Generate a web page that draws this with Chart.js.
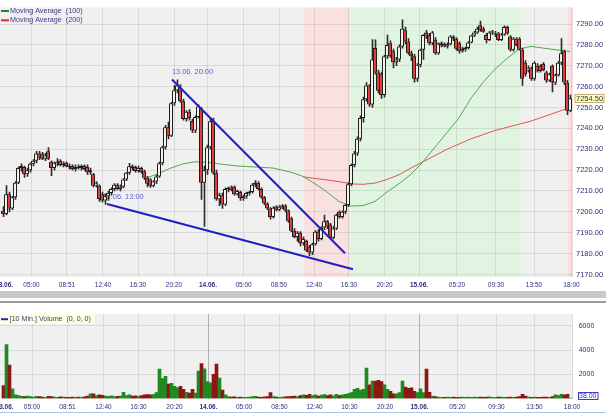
<!DOCTYPE html>
<html><head><meta charset="utf-8">
<script src="https://cdn.jsdelivr.net/npm/chart.js@4/dist/chart.umd.min.js"></script>
<style>
html,body{margin:0;padding:0;background:#fff;width:606px;height:416px;overflow:hidden;position:relative}
#w1{position:absolute;left:-20px;top:0;width:626px;height:290px}
#w2{position:absolute;left:-20px;top:304px;width:626px;height:112px}
#scroll{position:absolute;left:0;top:291px;width:606px;height:7px;background:#c9c9c9}
#sep{position:absolute;left:0;top:301px;width:606px;height:2px;background:#9c9c9c}
#bot{position:absolute;left:0;top:412px;width:606px;height:1px;background:#a9c6e8}
</style></head>
<body>
<div id="w1"><canvas id="c1" width="626" height="290"></canvas></div>
<div id="scroll"></div><div id="sep"></div>
<div id="w2"><canvas id="c2" width="626" height="112"></canvas></div>
<div id="bot"></div>
<script>
// ---------------- data ----------------
const tickPos = [0.35, 9.5, 21.33, 33.33, 45, 57, 68.33, 80.17, 92, 103.67, 115.33, 127.17, 138.67, 151.33, 164.33, 177, 189.5];
const tickLabels = ["13.06.","05:00","08:51","12:40","16:30","20:20","14.06.","05:00","08:50","12:40","16:30","20:20","15.06.","05:20","09:30","13:50","18:00"];
const priceTicks = [7170,7180,7190,7200,7210,7220,7230,7240,7250,7260,7270,7280,7290];
const volumeTicks = [2000,4000,6000];

const opens = [7200.5,7199,7208.5,7201.6,7207,7214,7221,7221.5,7218,7220,
7223,7224.5,7228,7228,7225.5,7229,7224,7221,7223.5,7224.5,
7222.5,7223.5,7222,7222,7220.5,7221.5,7221,7222,7221.5,7219,
7218,7212.5,7212.5,7208.5,7205.5,7207.5,7209,7211,7213,7211,
7212,7215.5,7218.7,7221.8,7221.5,7219.6,7221,7219.5,7216.3,7215.5,
7212.5,7214.5,7217,7223.3,7231,7240.5,7236.5,7252,7258.3,7259.5,
7253,7244.5,7248,7243.5,7239,7245.5,7249,7214,7220,7231,
7243.5,7218.7,7206,7208,7203.5,7211,7211.7,7212,7208.5,7209.5,
7206.5,7207.5,7209,7209.5,7213,7214,7211,7207,7204,7201.6,
7197.5,7202.5,7201,7202.5,7203,7200.8,7197,7191,7188,7190,
7185,7186,7183,7180.5,7184.5,7190.5,7187,7192.5,7195.5,7194,
7187.6,7192,7200,7197.5,7200,7203.3,7213.2,7222.5,7228,7235,
7245,7254,7260.6,7251.5,7278.5,7266.8,7266,7256,7274.6,7280.8,
7277,7271.7,7273,7279.3,7287,7281.6,7276,7274.6,7263.8,7270.5,
7277.7,7286,7284.7,7280.8,7282.5,7276,7280,7280.5,7279.3,7280.3,
7284,7283,7280.8,7277,7278,7278.5,7281.2,7284.5,7286,7289.4,
7287.8,7284.7,7282.4,7286,7285,7285.5,7282.4,7285,7288.6,7284,
7277.7,7283,7283,7277.7,7271.5,7267.6,7269,7263.8,7270,7270,
7271,7266.8,7263,7270,7262,7265.5,7271.5,7277,7262,7248.5];
const highs = [7202.5,7212.6,7209.5,7207.5,7214.5,7221.5,7223,7222,7221,7223.5,
7225,7229,7229,7228.5,7228,7230.8,7224.5,7224,7225.5,7225,
7224,7224,7223,7222.5,7222.5,7222.5,7222.5,7222.5,7222.5,7221,
7218.5,7214.5,7213,7209.5,7208.6,7210,7211.5,7213.5,7213.5,7213,
7216,7219,7223.3,7222.5,7222,7222,7221.5,7220,7217,7216,
7215,7217.5,7224,7231.5,7241.5,7243,7252.5,7260.6,7263.3,7261,
7254,7248.5,7249,7244.5,7246,7251.3,7250,7222,7232,7245,
7245,7220,7209,7209,7211.5,7212,7212.5,7212.5,7210.5,7210,
7208,7209.5,7210,7213.5,7215,7214.5,7211.5,7207.5,7204.5,7202,
7202.5,7203,7203,7203.5,7203.5,7201,7197.5,7192,7190.7,7190.5,
7188,7186.5,7184,7185,7191,7191.5,7193,7198.5,7196,7194.5,
7193,7199,7200.5,7200.5,7203.5,7214,7223,7229,7236,7246,
7255,7262,7261,7282.5,7282.4,7268,7267,7275,7284.7,7282,
7278,7274,7280,7292,7288.5,7283,7277,7275.5,7271,7278,
7285,7287,7285.5,7286.5,7283.5,7281,7281.5,7281,7281,7284.5,
7284.5,7283.5,7281.5,7279,7279,7281.6,7284.7,7286.5,7288.5,7291.4,
7288.5,7285.5,7286.5,7287,7286.5,7286,7285.5,7289.2,7289,7284.5,
7283.5,7283.5,7283.5,7278.5,7272.5,7270,7269.5,7272,7271,7270.5,
7271.5,7267.5,7266.5,7270.5,7266,7272,7283,7277.5,7263,7256];
const lows = [7197.7,7198.5,7200,7201,7206,7213.5,7219.5,7216.5,7217,7219,
7222,7223.5,7225,7225,7224.5,7225,7217.4,7220,7222,7222,
7221.5,7221.5,7220.5,7220,7219.5,7220.5,7220,7220,7218,7218,
7212,7212,7205,7204.7,7203.6,7205.5,7208,7210,7210.5,7210,
7211.5,7215,7218,7220,7219,7219,7218.5,7215.5,7212,7211.7,
7212,7213.5,7216.5,7222.5,7230,7235,7236,7251,7257,7252.5,
7244,7243.5,7244,7238,7238,7245,7206,7193,7218,7230,
7218,7205.5,7203,7201.6,7203,7209.5,7210,7208,7208,7205.5,
7205.5,7206.5,7208,7209,7212,7210.5,7206.5,7203.5,7201,7196.5,
7197,7200.5,7200.5,7201.5,7200,7195,7190.5,7187.5,7186,7183.7,
7184,7181,7179,7179.5,7184,7186,7186.5,7191.5,7192,7187,
7187,7191.5,7197,7197,7199,7202.5,7212.5,7221.5,7227,7234,
7243,7253,7250.5,7250,7266,7257,7254.4,7255,7273.5,7274,
7269,7270,7272,7278.5,7280.5,7275.5,7272.5,7262.2,7262.5,7269.5,
7273,7283,7280,7280,7275.5,7275.5,7279,7279,7278.5,7280,
7282,7277.5,7276,7276.5,7277,7278,7281,7284,7285.5,7286.5,
7286,7281,7282,7285,7284,7282,7282,7284.5,7285,7277,
7277,7279.5,7277.5,7260.6,7265,7267,7263,7263,7267,7267,
7267.5,7262,7262.5,7257.5,7261,7265,7270.5,7261,7246.6,7248];
const closes = [7199,7208.5,7201.6,7207,7214,7221,7222,7218,7220,7223,
7224.5,7228,7226,7225.5,7227,7225.5,7221,7223.5,7224,7222.5,
7223,7222,7221.5,7220.5,7221.5,7221,7222,7220.5,7219,7220,
7212.5,7214,7206.2,7205.5,7207.5,7209,7211,7213,7211,7212,
7215.5,7218.7,7221.8,7221,7219.6,7221,7219,7216.3,7213.5,7212.5,
7214.5,7217,7223.3,7231,7240.5,7236.5,7252,7258.3,7260.5,7253,
7244.5,7248,7245,7239,7245.5,7250.5,7214,7220,7231,7243.4,
7218.7,7206,7208,7203.5,7211,7211.5,7210.3,7208.5,7210,7206.5,
7207.5,7209,7209.5,7213,7214,7211,7207,7204,7201.6,7197.5,
7202,7201,7202.5,7203,7200.8,7195.5,7191,7188,7190,7185,
7187,7181.5,7180.5,7184.5,7190.5,7187,7192.5,7195.5,7193,7187.6,
7192,7198.6,7197.5,7200,7203.3,7213.2,7222.5,7228,7235,7245,
7254,7260.6,7251.5,7273,7266.8,7258,7256,7274.6,7280,7274.6,
7271.7,7273,7279.3,7287.8,7281.6,7276,7274.6,7263.8,7270.5,7277.7,
7284.7,7284,7280.8,7286,7276,7280.5,7280.8,7279.3,7280.3,7284,
7283,7278.2,7277,7278,7278.5,7281.2,7284.5,7286,7287.8,7287,
7286.3,7282.4,7286,7286.3,7285.5,7282.4,7285,7288.6,7285.5,7277.7,
7283,7280,7277.7,7263.8,7266,7269,7263.8,7271.5,7267.6,7267.5,
7268,7263,7266,7262,7265.5,7271.5,7276,7262,7248.5,7254.5];
const volumes = [1060,4460,2760,810,300,250,180,150,200,150,
120,180,150,120,100,180,150,120,100,130,
110,100,90,120,100,110,90,130,200,380,
390,250,300,260,200,180,220,150,170,200,
510,250,300,200,220,180,250,300,320,300,
330,500,2440,1640,1840,1200,1260,1000,900,1000,
760,510,450,760,450,2260,2880,2460,1390,1300,
2000,2840,1690,690,300,150,120,130,100,110,
90,100,120,150,180,120,100,130,150,500,
150,120,100,110,130,150,180,200,150,250,
300,260,340,250,300,200,280,320,250,300,
220,340,250,300,350,400,500,760,840,700,
760,2510,1140,1440,1440,1510,1390,1140,760,600,
390,390,500,1440,940,840,890,600,500,810,
500,2440,510,200,150,120,100,90,110,100,
120,100,90,110,100,120,100,110,90,120,
100,110,130,100,90,110,120,100,90,110,
100,120,150,340,200,120,100,110,90,100,
110,120,100,150,300,250,340,300,340,38];

const maX   = [48,52,56,60,64,68,72,78,84,90,96,100,104,108,112,116,120,124,128,132,136,140,144,148,152,156,160,164,168,172,176,180,184,189];
const ma100 = [7216.3,7218.5,7221,7223,7224,7223.8,7223,7222,7221.5,7221,7219,7217,7213.5,7209.5,7205,7202.8,7203,7205,7209.5,7213.5,7218,7224,7231,7238,7245,7254.5,7262,7268.4,7273.5,7278,7279.3,7278.5,7277.7,7276.8];
const ma200 = [null,null,null,null,null,null,null,null,null,null,null,7216.8,7216,7215.3,7214.5,7213.4,7213.2,7213.8,7215.5,7217.8,7221,7224,7227,7230,7232.5,7235,7237,7239,7240.5,7242,7243.5,7245.5,7247.5,7250];

const trendA = [[56.33,7263.4],[114,7180.2]];
const trendB = [[34.67,7203.8],[116.67,7172.5]];
const noteText = ["13.06. 20:00","13.06. 13:00"];
const noteX = [56.33, 33.17];
const noteY = [7267.2, 7207.3];

const bandFrom = [100.33, 115.43, 188.23];
const bandTo   = [115.43, 172.67, 190];
const bandType = ['down','up','down'];

// ---------------- rendering ----------------
const FONT = '"Liberation Sans", Arial, sans-serif';
Chart.defaults.font.family = FONT;
const NAVY = '#2e2e7c';
const idx = closes.map((_, i) => i);
const isUp = i => closes[i] >= opens[i];
const bodyColors = idx.map(i => isUp(i) ? '#f3f3ec' : '#e43b3b');
const volColors = idx.map(i => isUp(i) ? '#1f8a1f' : '#8e1616');
const isDay = k => tickLabels[k] && tickLabels[k].endsWith('.');

function xAxis(extra, darkDays, pad, h) {
  return Object.assign({
    type: 'linear', position: 'bottom', offset: false,
    afterBuildTicks: s => { s.ticks = tickPos.map(v => ({value: v})); },
    afterFit: s => { s.height = h; },
    ticks: {
      autoSkip: false, maxRotation: 0, minRotation: 0, padding: pad, color: NAVY,
      callback: (v, k) => tickLabels[k],
      font: c => ({size: 6.5, weight: isDay(c.index) ? 'bold' : 'normal'})
    },
    grid: {
      offset: false, drawTicks: false,
      color: c => c.index === 0 ? 'rgba(0,0,0,0)' : (darkDays && isDay(c.index) ? 'rgba(0,0,0,0.26)' : 'rgba(0,0,0,0.09)')
    },
    border: {display: false}
  }, extra);
}

const panelBg = {
  id: 'panelBg',
  beforeDraw(chart) {
    const {ctx, chartArea: a, scales} = chart;
    ctx.save();
    ctx.fillStyle = '#f0f0f0';
    ctx.fillRect(a.left, a.top, a.right - a.left, a.bottom - a.top);
    if (chart.canvas.id === 'c1') {
      bandFrom.forEach((f, k) => {
        const x0 = Math.max(a.left, scales.x.getPixelForValue(f));
        const x1 = Math.min(a.right, scales.x.getPixelForValue(bandTo[k]));
        ctx.fillStyle = bandType[k] === 'up' ? '#e1f4e1' : '#f9e1e1';
        ctx.fillRect(x0, a.top, x1 - x0, a.bottom - a.top);
      });
    }
    ctx.restore();
  }
};

const priceOverlay = {
  id: 'priceOverlay',
  beforeDatasetsDraw(chart) {
    const {ctx, scales} = chart;
    ctx.save();
    ctx.font = '7.4px ' + FONT;
    ctx.fillStyle = '#5c5cd8';
    ctx.textBaseline = 'middle';
    ctx.textAlign = 'left';
    noteText.forEach((t, k) => ctx.fillText(t, scales.x.getPixelForValue(noteX[k]), scales.y.getPixelForValue(noteY[k])));
    ctx.restore();
  },
  afterDraw(chart) {
    const {ctx, chartArea: a, scales} = chart;
    ctx.save();
    // legend
    ctx.font = '7.2px ' + FONT;
    ctx.textBaseline = 'middle';
    ctx.textAlign = 'left';
    [0, 1].forEach(k => {
      const ds = chart.data.datasets[k];
      const y = 11 + k * 9.3;
      ctx.strokeStyle = k === 0 ? '#1a8a1a' : '#e02828';
      ctx.lineWidth = 2;
      ctx.beginPath(); ctx.moveTo(a.left + 1, y); ctx.lineTo(a.left + 9, y); ctx.stroke();
      ctx.fillStyle = '#3a3a80';
      ctx.fillText(ds.label, a.left + 10, y);
    });
    // current price box
    const last = closes[closes.length - 1];
    const py = scales.y.getPixelForValue(last);
    const bx = a.right + 1.5, bw = 30, bh = 9;
    ctx.fillStyle = '#ffffc4';
    ctx.fillRect(bx, py - bh / 2, bw, bh);
    ctx.strokeStyle = '#c8b070';
    ctx.lineWidth = 1;
    ctx.strokeRect(bx + 0.5, Math.round(py - bh / 2) + 0.5, bw - 1, bh - 1);
    ctx.fillStyle = '#333';
    ctx.font = '7.5px ' + FONT;
    ctx.fillText(last.toFixed(2), a.right + 3, py + 0.5);
    ctx.restore();
  }
};

new Chart(document.getElementById('c1'), {
  type: 'bar',
  data: {
    datasets: [
      {type: 'line', label: 'Moving Average  (100)', data: maX.map((x, k) => ({x, y: ma100[k]})),
       borderColor: '#52a852', borderWidth: 1, pointRadius: 0, tension: 0, order: 3},
      {type: 'line', label: 'Moving Average  (200)', data: maX.map((x, k) => ({x, y: ma200[k]})),
       borderColor: '#e85252', borderWidth: 1, pointRadius: 0, tension: 0, order: 3},
      {type: 'bar', label: 'wick', xAxisID: 'xw', data: idx.map(i => ({x: i, y: [lows[i], highs[i]]})),
       backgroundColor: '#2e2e2e', grouped: false, maxBarThickness: 1, barPercentage: 1, categoryPercentage: 1, order: 2},
      {type: 'bar', label: 'body', data: idx.map(i => ({x: i, y: [opens[i], closes[i]]})),
       backgroundColor: bodyColors, borderColor: '#1e1e1e', borderWidth: 1, borderSkipped: false,
       grouped: false, barPercentage: 1.3334, categoryPercentage: 1, minBarLength: 1, order: 1},
      {type: 'line', label: 'trendA', data: trendA.map(p => ({x: p[0], y: p[1]})),
       borderColor: '#1f1fc4', borderWidth: 2, pointRadius: 0, order: 0},
      {type: 'line', label: 'trendB', data: trendB.map(p => ({x: p[0], y: p[1]})),
       borderColor: '#1f1fc4', borderWidth: 2, pointRadius: 0, order: 0}
    ]
  },
  options: {
    responsive: false, animation: false, devicePixelRatio: 1,
    layout: {padding: {left: 20, right: 0, top: 0, bottom: 0}},
    plugins: {legend: {display: false}, tooltip: {enabled: false}},
    scales: {
      x: xAxis({min: -1, max: 190}, false, 4.1, 13),
      xw: {type: 'linear', display: false, offset: false, min: -1 - 1/6, max: 190 - 1/6},
      y: {
        type: 'linear', position: 'right', min: 7168.79, max: 7297.93,
        afterBuildTicks: s => { s.ticks = priceTicks.map(v => ({value: v})); },
        afterFit: s => { s.width = 33; },
        ticks: {padding: 3, color: NAVY, font: {size: 7.5}, callback: v => Number(v).toFixed(2)},
        grid: {drawTicks: false, color: 'rgba(0,0,0,0.09)'},
        border: {display: false}
      }
    }
  },
  plugins: [panelBg, priceOverlay]
});

const volOverlay = {
  id: 'volOverlay',
  afterDraw(chart) {
    const {ctx, chartArea: a, scales} = chart;
    ctx.save();
    // legend box
    ctx.fillStyle = '#ffffe0';
    ctx.fillRect(a.left, a.top, 95, 10);
    ctx.strokeStyle = '#2424c8'; ctx.lineWidth = 2;
    ctx.beginPath(); ctx.moveTo(a.left + 1, a.top + 5.3); ctx.lineTo(a.left + 8, a.top + 5.3); ctx.stroke();
    ctx.font = '7.1px ' + FONT;
    ctx.fillStyle = '#3a3a80';
    ctx.textBaseline = 'middle'; ctx.textAlign = 'left';
    ctx.fillText(chart.data.datasets[0].label, a.left + 9.7, a.top + 5.3);
    // last value box
    const last = volumes[volumes.length - 1];
    let py = scales.y.getPixelForValue(last);
    py = Math.min(py, a.bottom - 2.5);
    const bx = a.right + 4.5, bw = 20.5, bh = 8;
    ctx.fillStyle = '#ffffff';
    ctx.fillRect(bx, py - bh / 2, bw, bh);
    ctx.strokeStyle = '#3a3ad0'; ctx.lineWidth = 1;
    ctx.strokeRect(Math.round(bx) + 0.5, Math.round(py - bh / 2) + 0.5, bw - 1, bh - 1);
    ctx.fillStyle = '#3030c8';
    ctx.font = '7px ' + FONT;
    ctx.fillText(last.toFixed(2), bx + 1.5, py + 0.5);
    ctx.restore();
  }
};

new Chart(document.getElementById('c2'), {
  type: 'bar',
  data: {
    datasets: [
      {label: '[10 Min.] Volume  (0, 0, 0)', data: idx.map(i => ({x: i, y: volumes[i]})),
       backgroundColor: volColors, grouped: false, barPercentage: 1, categoryPercentage: 1, borderWidth: 0}
    ]
  },
  options: {
    responsive: false, animation: false, devicePixelRatio: 1,
    layout: {padding: {left: 20, right: 0, top: 2, bottom: 0}},
    plugins: {legend: {display: false}, tooltip: {enabled: false}},
    scales: {
      x: xAxis({min: -1 - 1/6, max: 190 - 1/6}, true, 5.1, 17.5),
      y: {
        type: 'linear', position: 'right', min: 0, max: 7000,
        afterBuildTicks: s => { s.ticks = volumeTicks.map(v => ({value: v})); },
        afterFit: s => { s.width = 33; },
        ticks: {padding: 5.7, color: NAVY, font: {size: 7}, callback: v => String(v)},
        grid: {drawTicks: false, color: 'rgba(0,0,0,0.09)'},
        border: {display: false}
      }
    }
  },
  plugins: [panelBg, volOverlay]
});
</script>
</body></html>
